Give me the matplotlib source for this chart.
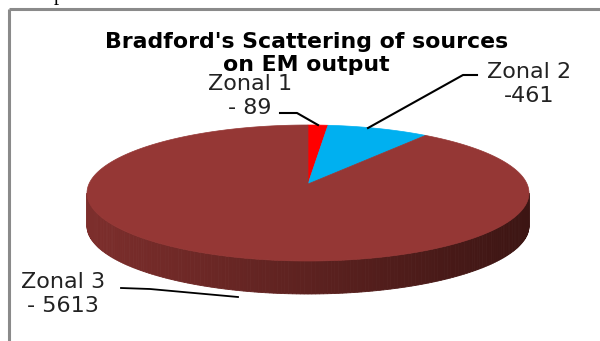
"""
3D-style pie of Bradford's scattering of sources on EM output.
"""
import numpy as np
import matplotlib
matplotlib.use('Agg')
import matplotlib.pyplot as plt
from matplotlib.patches import Polygon
from matplotlib.colors import to_rgb

zones = ['Zonal 1', 'Zonal 2', 'Zonal 3']
counts = [89, 461, 5613]
labels = ['Zonal 1\n- 89', 'Zonal 2\n-461', 'Zonal 3\n- 5613']
colors = ['#ff0000', '#00b0f0', '#953735']

# pie geometry in pixel space
cx, cy = 308, 193
a, b = 221, 68
apex = (308, 184)
depth = 33


def rim(t):
    t = np.radians(t)
    return cx + a * np.cos(t), cy - b * np.sin(t)


fig = plt.figure(figsize=(6, 3.41), dpi=100)
ax = fig.add_axes([0, 0, 1, 1])
ax.set_xlim(0, 600)
ax.set_ylim(341, 0)
ax.axis('off')

# frame of the figure box
ax.plot([9, 600], [9, 9], color='#8a8a8a', lw=2.2, solid_capstyle='butt')
ax.plot([9, 9], [9, 341], color='#8a8a8a', lw=2.2, solid_capstyle='butt')

# cut-off line of body text above the chart
ax.text(10, 5, 'multiplier value is 0.66.', family='Liberation Serif',
        fontsize=15, va='bottom', ha='left', color='black')

# side wall (front half), shaded left to right
dark_l = np.array(to_rgb('#7d2e2c'))
dark_r = np.array(to_rgb('#3c1513'))
ts = np.linspace(180, 360, 181)
for t0, t1 in zip(ts[:-1], ts[1:]):
    x0, y0 = rim(t0)
    x1, y1 = rim(t1)
    f = (x0 - (cx - a)) / (2 * a)
    col = dark_l * (1 - f) + dark_r * f
    ax.add_patch(Polygon([(x0, y0), (x1, y1), (x1, y1 + depth), (x0, y0 + depth)],
                         closed=True, fc=col, ec=col, lw=0.6))

# top face wedges, clockwise from 12 o'clock
total = float(sum(counts))
start = 90.0
for val, col in zip(counts, colors):
    span = 360.0 * val / total
    tt = np.linspace(start, start - span, max(int(span * 2), 4))
    pts = [apex] + [rim(t) for t in tt]
    ax.add_patch(Polygon(pts, closed=True, fc=col, ec=col, lw=0.5))
    start -= span

# title
title_style = dict(family='DejaVu Sans', fontweight='bold', fontsize=15.8,
                   ha='center', va='baseline', color='black')
ax.text(307, 48, "Bradford's Scattering of sources", **title_style)
ax.text(306, 71, 'on EM output', **title_style)

# data labels, one text per line
lab_style = dict(family='DejaVu Sans', fontsize=16, color='#222222',
                 ha='center', va='baseline')
label_pos = [(250, 90), (529, 78), (63, 288)]
for lab, (x, y) in zip(labels, label_pos):
    for k, line in enumerate(lab.split('\n')):
        ax.text(x, y + 24 * k, line, **lab_style)

# leader lines
ax.plot([280, 297, 318], [113, 113, 125], color='black', lw=1.5)
ax.plot([477, 463, 368], [75, 75, 128], color='black', lw=1.5)
ax.plot([121, 150, 238], [288, 289, 297], color='black', lw=1.3)

fig.savefig('out.png', dpi=100)
